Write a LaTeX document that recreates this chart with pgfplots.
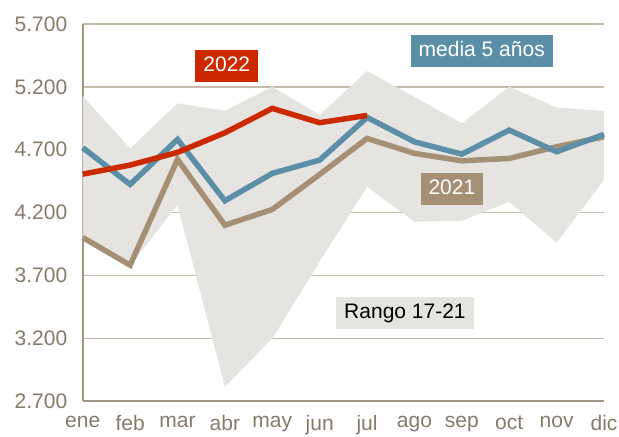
\documentclass[border=0pt]{standalone}
\usepackage{pgfplots}
\pgfplotsset{compat=1.18}
\usepackage{fontspec}
\setmainfont{Liberation Sans}
\definecolor{cred}{HTML}{CC2900}
\definecolor{cblue}{HTML}{5B8FA8}
\definecolor{cbrown}{HTML}{A69075}
\definecolor{cband}{HTML}{E6E4E1}
\definecolor{cgrid}{HTML}{C4BBAA}
\definecolor{caxis}{HTML}{A09682}
\definecolor{ctick}{HTML}{857B6B}
\begin{document}
\begin{tikzpicture}
\begin{axis}[
  scale only axis,
  width=521bp, height=377bp,
  xmin=0, xmax=11, ymin=2700, ymax=5700,
  axis x line*=bottom, axis y line*=left,
  axis line style={caxis, line width=2bp},
  xtick={0,...,11},
  xticklabels={ene,feb,mar,abr,may,jun,jul,ago,sep,oct,nov,dic},
  ytick={2700,3200,3700,4200,4700,5200,5700},
  yticklabels={2.700,3.200,3.700,4.200,4.700,5.200,5.700},
  major tick length=0pt,
  ymajorgrids,
  grid style={cgrid, line width=1.5bp},
  tick label style={ctick, font=\fontsize{21bp}{24bp}\selectfont},
  xticklabel style={yshift=-11bp},
  yticklabel style={xshift=-12bp},
  clip=false,
]
% band Rango 17-21
\addplot[fill=cband, draw=none] coordinates {
 (0,5127) (1,4711) (2,5069) (3,5010) (4,5201) (5,4976) (6,5326) (7,5121) (8,4910) (9,5201) (10,5037) (11,5008)
 (11,4459) (10,3960) (9,4286) (8,4135) (7,4127) (6,4405) (5,3810) (4,3199) (3,2814) (2,4260) (1,3780) (0,3990)
} -- cycle;
% 2021
\addplot[cbrown, line width=5.5bp] coordinates {
 (0,4002) (1,3782) (2,4623) (3,4100) (4,4225) (5,4504) (6,4790) (7,4671) (8,4612) (9,4631) (10,4724) (11,4803)
};
% media 5 anos
\addplot[cblue, line width=5.5bp] coordinates {
 (0,4716) (1,4424) (2,4782) (3,4294) (4,4512) (5,4618) (6,4957) (7,4763) (8,4665) (9,4856) (10,4684) (11,4822)
};
% 2022
\addplot[cred, line width=5.5bp] coordinates {
 (0,4506) (1,4578) (2,4679) (3,4835) (4,5029) (5,4915) (6,4973)
};
\tikzset{lbl/.style={font=\fontsize{21bp}{24bp}\selectfont, inner xsep=8bp, inner ysep=6.5bp, text height=15bp, text depth=4bp}}
\node[lbl, fill=cred, text=white] at (axis cs:3.04,5366) {2022};
\node[lbl, fill=cblue, text=white] at (axis cs:8.42,5485) {media 5 años};
\node[lbl, fill=cbrown, text=white] at (axis cs:7.79,4387) {2021};
\node[lbl, fill=cband, text=black] at (axis cs:6.80,3400) {Rango 17-21};
\end{axis}
\pgfresetboundingbox
\path[use as bounding box] ([xshift=-82.7bp,yshift=-35bp]current axis.south west) rectangle ([xshift=15bp,yshift=24bp]current axis.north east);
\end{tikzpicture}
\end{document}
